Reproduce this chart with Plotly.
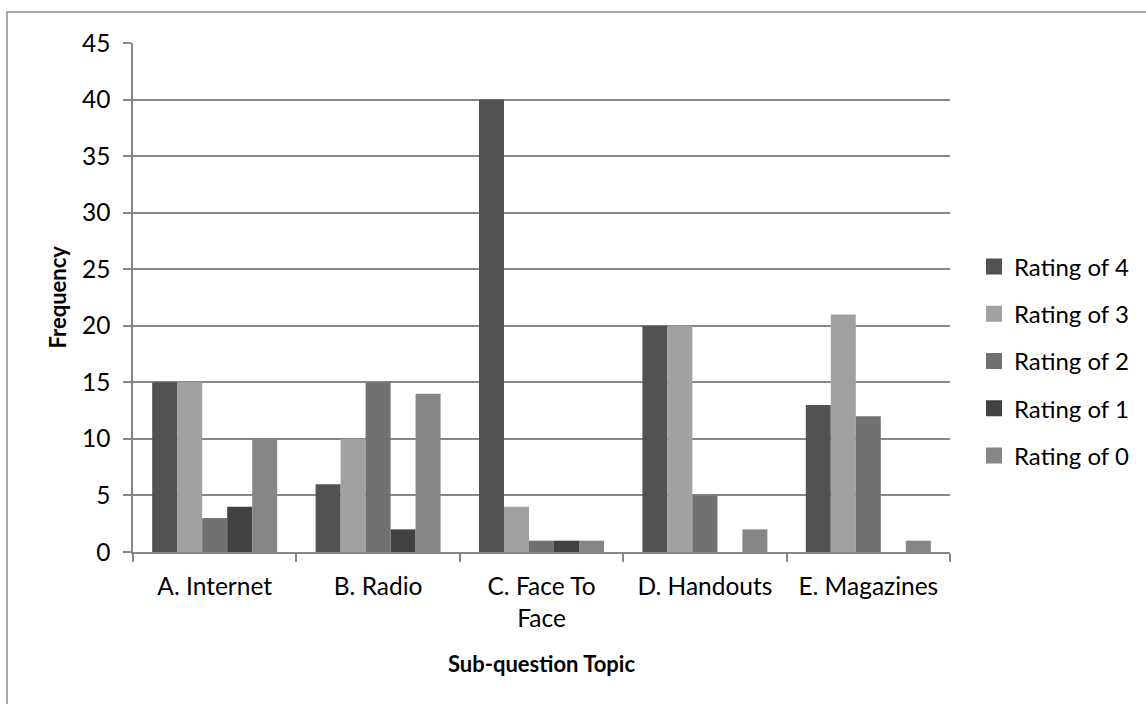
import plotly.graph_objects as go

# Survey results: frequency of each rating per sub-question topic
topics = ["A. Internet", "B. Radio", "C. Face To<br>Face", "D. Handouts", "E. Magazines"]
rating_4 = [15, 6, 40, 20, 13]
rating_3 = [15, 10, 4, 20, 21]
rating_2 = [3, 15, 1, 5, 12]
rating_1 = [4, 2, 1, 0, 0]
rating_0 = [10, 14, 1, 2, 1]

series_names = ["Rating of 4", "Rating of 3", "Rating of 2", "Rating of 1", "Rating of 0"]
series_values = [rating_4, rating_3, rating_2, rating_1, rating_0]
series_colors = ["#525252", "#a1a1a1", "#717171", "#424242", "#868686"]

FONT = "Lato"
FS = 24.5
GRID = "#878787"

W, H = 1146, 704
ML, MR, MT, MB = 133, 196, 43, 152
PW, PH = W - ML - MR, H - MT - MB

fig = go.Figure()
for name, vals, col in zip(series_names, series_values, series_colors):
    fig.add_trace(go.Bar(
        x=topics, y=vals, name=name, legendgroup=name, showlegend=False,
        marker=dict(color=col, line=dict(width=0)),
    ))

# legend entries with larger square swatches
for name, col in zip(series_names, series_colors):
    fig.add_trace(go.Scatter(
        x=[None], y=[None], name=name, legendgroup=name, mode="markers",
        marker=dict(symbol="square", size=16, color=col, line=dict(width=0)),
        showlegend=True, hoverinfo="skip",
    ))

def px_x(px):
    return (px - ML) / PW

def px_y(py):
    return (H - MB - py) / PH

fig.update_layout(
    width=W, height=H,
    margin=dict(l=ML, r=MR, t=MT, b=MB, autoexpand=False),
    paper_bgcolor="white", plot_bgcolor="white",
    font=dict(family=FONT, size=FS, color="#000000"),
    barmode="group", bargap=0.235, bargroupgap=0,
    showlegend=True,
    legend=dict(
        xref="container", yref="container",
        x=974 / W, y=1 - 361 / H, xanchor="left", yanchor="middle",
        font=dict(family=FONT, size=24, color="#000000"),
        tracegroupgap=13, traceorder="grouped",
        bgcolor="rgba(0,0,0,0)",
    ),
    xaxis=dict(
        type="category", tickson="boundaries",
        ticks="outside", ticklen=8, tickcolor=GRID, tickwidth=1.5,
        showline=True, linecolor=GRID, linewidth=1.5,
        showgrid=False, zeroline=False,
        tickfont=dict(family=FONT, size=FS, color="#000000"),
        ticklabelstandoff=12,
    ),
    yaxis=dict(
        range=[0, 45], dtick=5, tick0=0,
        ticks="outside", ticklen=8, tickcolor=GRID, tickwidth=1.5,
        showline=True, linecolor=GRID, linewidth=1.5,
        showgrid=True, gridcolor=GRID, gridwidth=1.5,
        zeroline=False,
        tickfont=dict(family=FONT, size=FS, color="#000000"),
        ticklabelstandoff=8,
    ),
    annotations=[
        dict(text="<b>Sub-question Topic</b>", xref="paper", yref="paper",
             x=0.5, y=px_y(663), xanchor="center", yanchor="middle",
             showarrow=False, font=dict(family=FONT, size=22, color="#000000")),
        dict(text="<b>Frequency</b>", xref="paper", yref="paper",
             x=px_x(57), y=0.5, xanchor="center", yanchor="middle",
             textangle=-90, showarrow=False,
             font=dict(family=FONT, size=22, color="#000000")),
    ],
    shapes=[
        dict(type="rect", xref="paper", yref="paper",
             x0=px_x(7), x1=px_x(1160), y0=px_y(720), y1=px_y(12),
             line=dict(color="#8a8a8a", width=1.5), fillcolor="rgba(0,0,0,0)",
             layer="below"),
    ],
)

fig.write_html("out.html")
